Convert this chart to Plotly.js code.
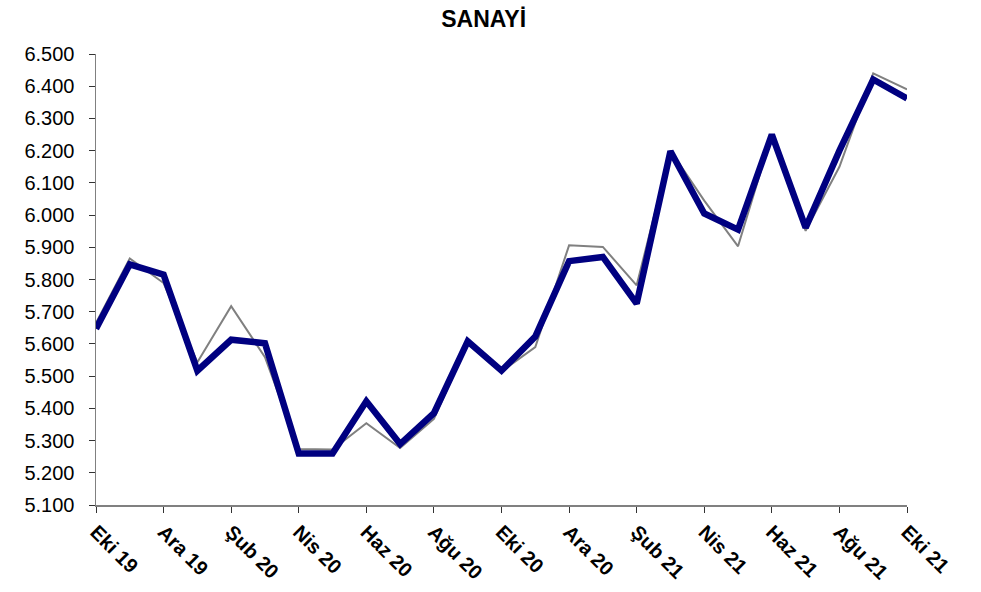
<!DOCTYPE html>
<html>
<head>
<meta charset="utf-8">
<script src="https://cdn.plot.ly/plotly-3.0.1.min.js"></script>
<style>html,body{margin:0;padding:0;background:#fff;}#chart{width:981px;height:592px;}</style>
</head>
<body>
<div id="chart"></div>
<script>
const months = ["Eki 19","Kas 19","Ara 19","Oca 20","Şub 20","Mar 20","Nis 20","May 20","Haz 20","Tem 20","Ağu 20","Eyl 20",
  "Eki 20","Kas 20","Ara 20","Oca 21","Şub 21","Mar 21","Nis 21","May 21","Haz 21","Tem 21","Ağu 21","Eyl 21","Eki 21"];
const tickLabels = ["Eki 19","Ara 19","Şub 20","Nis 20","Haz 20","Ağu 20","Eki 20","Ara 20","Şub 21","Nis 21","Haz 21","Ağu 21","Eki 21"];
const navySeries = [5647,5847,5815,5517,5613,5602,5260,5260,5422,5289,5385,5608,5517,5623,5857,5870,5725,6198,6005,5955,6250,5961,6200,6421,6362];
const greySeries = [5665,5865,5789,5543,5717,5559,5274,5272,5354,5277,5367,5600,5515,5590,5906,5901,5782,6200,6045,5903,6250,5951,6150,6440,6390];
const yTicks = [5100,5200,5300,5400,5500,5600,5700,5800,5900,6000,6100,6200,6300,6400,6500];

const traces = [
  {x: months, y: greySeries, type: 'scatter', mode: 'lines', line: {color: '#808080', width: 2}, showlegend: false, hoverinfo: 'skip'},
  {x: months, y: navySeries, type: 'scatter', mode: 'lines', line: {color: '#000080', width: 6.5}, showlegend: false}
];

const layout = {
  width: 981, height: 592,
  margin: {l: 96, r: 74, t: 54, b: 87},
  paper_bgcolor: '#ffffff', plot_bgcolor: '#ffffff',
  separators: ',.',
  font: {family: 'Liberation Sans, Arial, sans-serif', color: '#000000'},
  title: {text: '<b>SANAYİ</b>', font: {size: 23, family: 'Liberation Sans, Arial, sans-serif', color: '#000'}, x: 0.493, xanchor: 'center', y: 0.968, yanchor: 'middle'},
  xaxis: {
    type: 'category', categoryorder: 'array', categoryarray: months,
    range: [0, months.length - 1],
    tickmode: 'array', tickvals: tickLabels, ticktext: tickLabels.map(t => '<b>' + t + '</b>'),
    tickangle: 45, tickfont: {size: 20, family: 'Liberation Sans, Arial, sans-serif'},
    showgrid: false, zeroline: false,
    showline: true, linecolor: '#808080', linewidth: 1.5,
    ticks: 'outside', ticklen: 6, tickcolor: '#333', tickwidth: 1
  },
  yaxis: {
    range: [5100, 6500],
    tickmode: 'array', tickvals: yTicks, tickformat: ',d',
    tickfont: {size: 20, family: 'Liberation Sans, Arial, sans-serif'},
    ticklabelstandoff: 10,
    showgrid: false, zeroline: false,
    showline: true, linecolor: '#808080', linewidth: 1.5,
    ticks: 'outside', ticklen: 6, tickcolor: '#333', tickwidth: 1
  }
};

Plotly.newPlot('chart', traces, layout, {displayModeBar: false, staticPlot: true});
</script>
</body>
</html>
